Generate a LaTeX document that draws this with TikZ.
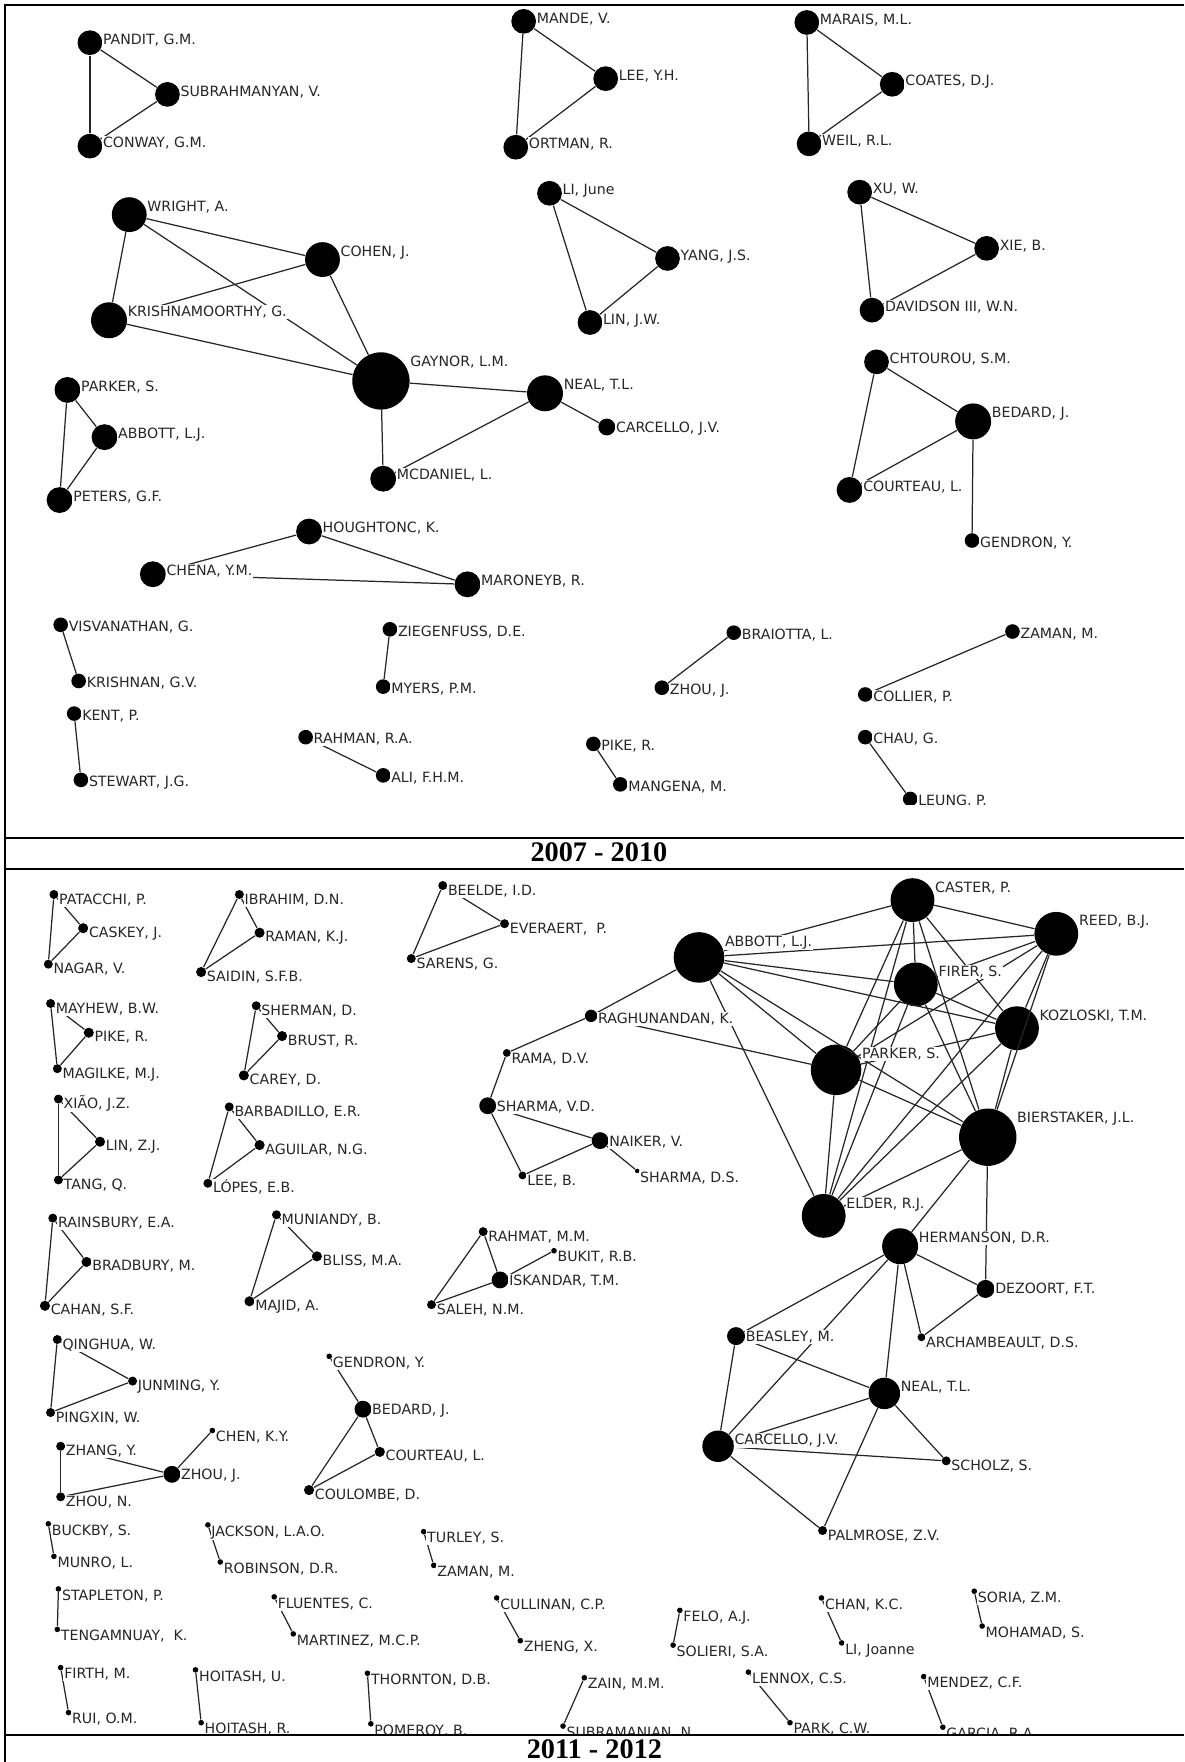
\documentclass[tikz,border=0pt]{standalone}
\usepackage{fontspec}
\setmainfont{DejaVu Sans}
\newfontfamily\capfont{Liberation Serif}
\pgfdeclarelayer{fg}
\pgfdeclarelayer{top}
\pgfsetlayers{main,fg,top}
\tikzset{
  dot/.style={circle, fill=black, inner sep=0pt, draw=none},
  lab/.style={anchor=base west, fill=white, inner xsep=0.4pt, inner ysep=0.4pt, font=\fontsize{6.3pt}{7pt}\selectfont, text=black!85},
  edge/.style={draw=black!85, line width=0.55pt},
  frame/.style={draw=black, line width=0.9pt},
  yearcap/.style={font=\capfont\bfseries\fontsize{12.6pt}{14pt}\selectfont, anchor=base, inner sep=0pt}
}
\newcommand\mynode[5]{%
  \node[dot, minimum size=#4pt] (#1) at (#2,#3) {};
  \begin{pgfonlayer}{fg}
    \node[lab] (#1-l) at ({#2+#4-0.5},{#3-#4+12.5}) {#5};
  \end{pgfonlayer}}
\begin{document}
\begin{tikzpicture}[x=0.5pt,y=-0.5pt]
\useasboundingbox (0,0) rectangle (1054,1568);
% ===== 2007 - 2010 =====
\mynode{pandit}{80}{38}{11}{PANDIT, G.M.}
\mynode{subrah}{149}{84}{11}{SUBRAHMANYAN, V.}
\mynode{conway}{80}{130}{11}{CONWAY, G.M.}
\mynode{mande}{466}{19}{11}{MANDE, V.}
\mynode{leeyh}{539}{70}{11}{LEE, Y.H.}
\mynode{ortman}{459}{131}{11}{ORTMAN, R.}
\mynode{marais}{718}{20}{11}{MARAIS, M.L.}
\mynode{coates}{794}{75}{11}{COATES, D.J.}
\mynode{weil}{720}{128}{11}{WEIL, R.L.}
\mynode{wright}{115}{191}{15.5}{WRIGHT, A.}
\mynode{cohen}{287}{231}{15.5}{COHEN, J.}
\mynode{krish}{97}{285}{16}{KRISHNAMOORTHY, G.}
\mynode{gaynor}{339}{339}{25.5}{GAYNOR, L.M.}
\mynode{nealt}{485}{350}{16}{NEAL, T.L.}
\mynode{carct}{540}{380}{7.5}{CARCELLO, J.V.}
\mynode{mcdan}{341}{426}{11.5}{MCDANIEL, L.}
\mynode{lijune}{489}{172}{11}{LI, June}
\mynode{yang}{594}{230}{11}{YANG, J.S.}
\mynode{linjw}{525}{287}{11}{LIN, J.W.}
\mynode{xuw}{765}{171}{11}{XU, W.}
\mynode{xieb}{878}{221}{11}{XIE, B.}
\mynode{david}{776}{276}{11}{DAVIDSON III, W.N.}
\mynode{chtou}{780}{322}{11}{CHTOUROU, S.M.}
\mynode{bedt}{866}{375}{16}{BEDARD, J.}
\mynode{court}{756}{436}{11.5}{COURTEAU, L.}
\mynode{gendt}{865}{481}{6.5}{GENDRON, Y.}
\mynode{parkt}{60}{347}{11.5}{PARKER, S.}
\mynode{abbt}{93}{389}{11.5}{ABBOTT, L.J.}
\mynode{peters}{53}{445}{11.5}{PETERS, G.F.}
\mynode{hough}{275}{473}{11.5}{HOUGHTONC, K.}
\mynode{chena}{136}{511}{11.5}{CHENA, Y.M.}
\mynode{maron}{416}{520}{11.5}{MARONEYB, R.}
\mynode{visv}{54}{556}{6.5}{VISVANATHAN, G.}
\mynode{krishn}{70}{606}{6.5}{KRISHNAN, G.V.}
\mynode{kent}{66}{635}{6.5}{KENT, P.}
\mynode{stew}{72}{694}{6.5}{STEWART, J.G.}
\mynode{zieg}{347}{560}{6.5}{ZIEGENFUSS, D.E.}
\mynode{myers}{341}{611}{6.5}{MYERS, P.M.}
\mynode{rahman}{272}{656}{6.5}{RAHMAN, R.A.}
\mynode{ali}{341}{690}{6.5}{ALI, F.H.M.}
\mynode{brai}{653}{563}{6.5}{BRAIOTTA, L.}
\mynode{zhout}{589}{612}{6.5}{ZHOU, J.}
\mynode{zamant}{901}{562}{6.5}{ZAMAN, M.}
\mynode{coll}{770}{618}{6.5}{COLLIER, P.}
\mynode{piket}{528}{662}{6.5}{PIKE, R.}
\mynode{mang}{552}{698}{6.5}{MANGENA, M.}
\mynode{chau}{770}{656}{6.5}{CHAU, G.}
\mynode{leung}{810}{711}{6.5}{LEUNG, P.}
% ===== 2011 - 2012 =====
\mynode{patac}{48}{796}{4}{PATACCHI, P.}
\mynode{caskey}{74}{826}{4.5}{CASKEY, J.}
\mynode{nagar}{43}{858}{4}{NAGAR, V.}
\mynode{ibrahim}{213}{796}{4}{IBRAHIM, D.N.}
\mynode{raman}{231}{830}{4.5}{RAMAN, K.J.}
\mynode{saidin}{179}{865}{4.5}{SAIDIN, S.F.B.}
\mynode{beelde}{394}{788}{4}{BEELDE, I.D.}
\mynode{everaert}{449}{822}{4}{EVERAERT,\ \ P.}
\mynode{sarens}{366}{853}{4}{SARENS, G.}
\mynode{mayhew}{45}{893}{4}{MAYHEW, B.W.}
\mynode{pikeb}{79}{919}{4.5}{PIKE, R.}
\mynode{magilke}{51}{951}{4}{MAGILKE, M.J.}
\mynode{sherman}{228}{895}{4}{SHERMAN, D.}
\mynode{brust}{251}{922}{4.5}{BRUST, R.}
\mynode{carey}{217}{957}{4.5}{CAREY, D.}
\mynode{xiao}{52}{978}{4}{XIÃO, J.Z.}
\mynode{linzj}{89}{1016}{4.5}{LIN, Z.J.}
\mynode{tang}{52}{1050}{4}{TANG, Q.}
\mynode{barb}{204}{985}{4}{BARBADILLO, E.R.}
\mynode{aguilar}{231}{1019}{4.5}{AGUILAR, N.G.}
\mynode{lopes}{185}{1053}{4}{LÓPES, E.B.}
\mynode{rains}{47}{1084}{4}{RAINSBURY, E.A.}
\mynode{bradb}{77}{1123}{4.5}{BRADBURY, M.}
\mynode{cahan}{40}{1162}{4.5}{CAHAN, S.F.}
\mynode{muni}{246}{1081}{4}{MUNIANDY, B.}
\mynode{bliss}{282}{1118}{4.5}{BLISS, M.A.}
\mynode{majid}{222}{1158}{4.5}{MAJID, A.}
\mynode{rahmat}{430}{1096}{4}{RAHMAT, M.M.}
\mynode{bukit}{493}{1113}{2.5}{BUKIT, R.B.}
\mynode{iskand}{445}{1139}{7.5}{ISKANDAR, T.M.}
\mynode{saleh}{384}{1161}{4}{SALEH, N.M.}
\mynode{qing}{51}{1192}{4}{QINGHUA, W.}
\mynode{junm}{118}{1229}{4}{JUNMING, Y.}
\mynode{pingx}{45}{1257}{4}{PINGXIN, W.}
\mynode{zhangy}{54}{1287}{4}{ZHANG, Y.}
\mynode{zhoujb}{153}{1312}{7.5}{ZHOU, J.}
\mynode{chenky}{189}{1273}{2.5}{CHEN, K.Y.}
\mynode{zhoun}{54}{1332}{4}{ZHOU, N.}
\mynode{gendb}{293}{1207}{2.5}{GENDRON, Y.}
\mynode{bedb}{323}{1254}{7.5}{BEDARD, J.}
\mynode{courb}{338}{1292}{4.5}{COURTEAU, L.}
\mynode{coulombe}{275}{1326}{4.5}{COULOMBE, D.}
\mynode{buckby}{43}{1356}{2.5}{BUCKBY, S.}
\mynode{munro}{48}{1385}{2.5}{MUNRO, L.}
\mynode{jackson}{185}{1357}{2.5}{JACKSON, L.A.O.}
\mynode{robinson}{196}{1390}{2.5}{ROBINSON, D.R.}
\mynode{turley}{377}{1363}{2.5}{TURLEY, S.}
\mynode{zamanb}{386}{1393}{2.5}{ZAMAN, M.}
\mynode{staple}{52}{1414}{2.5}{STAPLETON, P.}
\mynode{tengam}{51}{1450}{2.5}{TENGAMNUAY,\ \ K.}
\mynode{fluent}{244}{1421}{2.5}{FLUENTES, C.}
\mynode{martin}{261}{1454}{2.5}{MARTINEZ, M.C.P.}
\mynode{cullin}{442}{1422}{2.5}{CULLINAN, C.P.}
\mynode{zheng}{463}{1460}{2.5}{ZHENG, X.}
\mynode{firth}{54}{1484}{2.5}{FIRTH, M.}
\mynode{rui}{61}{1524}{2.5}{RUI, O.M.}
\mynode{hoitu}{174}{1486}{2.5}{HOITASH, U.}
\mynode{hoitr}{179}{1533}{2.5}{HOITASH, R.}
\mynode{thorn}{327}{1489}{2.5}{THORNTON, D.B.}
\mynode{pomer}{330}{1534}{2.5}{POMEROY, B.}
\mynode{zain}{520}{1493}{2.5}{ZAIN, M.M.}
\mynode{subram}{501}{1536}{2.5}{SUBRAMANIAN, N.}
\mynode{felo}{605}{1433}{2.5}{FELO, A.J.}
\mynode{solieri}{599}{1464}{2.5}{SOLIERI, S.A.}
\mynode{chankc}{731}{1422}{2.5}{CHAN, K.C.}
\mynode{lijoanne}{749}{1462}{2.5}{LI, Joanne}
\mynode{soria}{867}{1416}{2.5}{SORIA, Z.M.}
\mynode{mohamad}{874}{1447}{2.5}{MOHAMAD, S.}
\mynode{lennox}{666}{1488}{2.5}{LENNOX, C.S.}
\mynode{parkcw}{703}{1533}{2.5}{PARK, C.W.}
\mynode{mendez}{822}{1492}{2.5}{MENDEZ, C.F.}
\mynode{garcia}{839}{1537}{2.5}{GARCIA, R.A.}
% big cluster
\mynode{caster}{812}{801}{19.5}{CASTER, P.}
\mynode{reed}{940}{831}{19.5}{REED, B.J.}
\mynode{abbb}{622}{852}{22.5}{ABBOTT, L.J.}
\mynode{firer}{815}{876}{19.5}{FIRER, S.}
\mynode{koz}{905}{915}{19.5}{KOZLOSKI, T.M.}
\mynode{parkb}{744}{952}{22.5}{PARKER, S.}
\mynode{bier}{879}{1012}{25.5}{BIERSTAKER, J.L.}
\mynode{elder}{733}{1082}{19.5}{ELDER, R.J.}
\mynode{ragh}{526}{904}{5.5}{RAGHUNANDAN, K.}
\mynode{rama}{451}{937}{3.5}{RAMA, D.V.}
\mynode{sharmavd}{434}{984}{7.5}{SHARMA, V.D.}
\mynode{naiker}{534}{1015}{7.5}{NAIKER, V.}
\mynode{leeb}{465}{1046}{3.5}{LEE, B.}
\mynode{sharmads}{567}{1042}{2}{SHARMA, D.S.}
\mynode{herm}{801}{1109}{16}{HERMANSON, D.R.}
\mynode{dez}{877}{1147}{8}{DEZOORT, F.T.}
\mynode{beasley}{655}{1189}{8}{BEASLEY, M.}
\mynode{arch}{820}{1190}{3.5}{ARCHAMBEAULT, D.S.}
\mynode{nealb}{787}{1240}{14}{NEAL, T.L.}
\mynode{carcb}{639}{1287}{14}{CARCELLO, J.V.}
\mynode{scholz}{842}{1300}{4}{SCHOLZ, S.}
\mynode{palm}{732}{1362}{4}{PALMROSE, Z.V.}
% ===== edges =====
\foreach \a/\b in {pandit/subrah, pandit/conway, subrah/conway,
  mande/leeyh, mande/ortman, leeyh/ortman,
  marais/coates, marais/weil, coates/weil,
  wright/cohen, wright/krish, wright/gaynor, cohen/krish, cohen/gaynor, krish/gaynor,
  gaynor/nealt, gaynor/mcdan, nealt/carct, nealt/mcdan,
  lijune/yang, lijune/linjw, yang/linjw,
  xuw/xieb, xuw/david, xieb/david,
  chtou/bedt, chtou/court, bedt/court, bedt/gendt,
  parkt/abbt, parkt/peters, abbt/peters,
  hough/chena, hough/maron, chena/maron,
  visv/krishn, kent/stew, zieg/myers, rahman/ali, brai/zhout, zamant/coll, piket/mang, chau/leung,
  patac/caskey, patac/nagar, caskey/nagar,
  ibrahim/raman, ibrahim/saidin, raman/saidin,
  beelde/everaert, beelde/sarens, everaert/sarens,
  mayhew/pikeb, mayhew/magilke, pikeb/magilke,
  sherman/brust, sherman/carey, brust/carey,
  xiao/linzj, xiao/tang, linzj/tang,
  barb/aguilar, barb/lopes, aguilar/lopes,
  rains/bradb, rains/cahan, bradb/cahan,
  muni/bliss, muni/majid, bliss/majid,
  rahmat/iskand, rahmat/saleh, iskand/saleh, iskand/bukit,
  qing/junm, qing/pingx, junm/pingx,
  zhangy/zhoun, zhangy/zhoujb, zhoujb/zhoun, zhoujb/chenky,
  gendb/bedb, bedb/courb, bedb/coulombe, courb/coulombe,
  buckby/munro, jackson/robinson, turley/zamanb, staple/tengam, fluent/martin,
  cullin/zheng, firth/rui, hoitu/hoitr, thorn/pomer, zain/subram, felo/solieri,
  chankc/lijoanne, soria/mohamad, lennox/parkcw, mendez/garcia,
  abbb/ragh, ragh/parkb, ragh/rama, rama/sharmavd, sharmavd/leeb, sharmavd/naiker,
  naiker/leeb, naiker/sharmads,
  abbb/caster, abbb/reed, abbb/firer, abbb/koz, abbb/parkb, abbb/bier, abbb/elder,
  caster/reed, caster/firer, caster/koz, caster/parkb, caster/bier, caster/elder,
  reed/firer, reed/koz, reed/parkb, reed/bier, reed/elder,
  firer/koz, firer/parkb, firer/bier, firer/elder,
  koz/parkb, koz/bier, koz/elder, parkb/bier, parkb/elder, bier/elder,
  bier/herm, bier/dez, herm/dez, herm/beasley, herm/carcb, herm/nealb, herm/arch,
  dez/arch, beasley/nealb, beasley/carcb, nealb/carcb, nealb/scholz, nealb/palm,
  carcb/scholz, carcb/palm}
  \draw[edge] (\a) -- (\b);
% ===== frame and captions =====
\begin{pgfonlayer}{top}
\fill[white] (6,716) rectangle (1054,745);
\fill[white] (6,1543) rectangle (1054,1568);
\draw[frame] (4.5,1568) -- (4.5,4.5) -- (1054,4.5);
\draw[frame] (4.5,746) -- (1054,746);
\draw[frame] (4.5,773) -- (1054,773);
\draw[frame] (4.5,1544) -- (1054,1544);
\node[yearcap] (cap1) at (533,767) {2007 - 2010};
\node[yearcap] (cap2) at (529,1565) {2011 - 2012};
\end{pgfonlayer}
\end{tikzpicture}
\end{document}
